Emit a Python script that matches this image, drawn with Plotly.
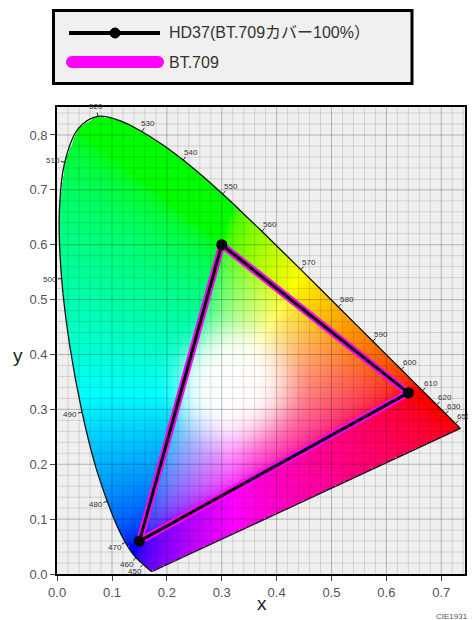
import numpy as np
import plotly.graph_objects as go

# CIE 1931 spectral locus, 380-700 nm every 5 nm
WAVELENGTHS = list(range(380, 705, 5))
LOCUS_X = [0.1741, 0.1740, 0.1738, 0.1736, 0.1733, 0.1730, 0.1726, 0.1721, 0.1714, 0.1703,
           0.1689, 0.1669, 0.1644, 0.1611, 0.1566, 0.1510, 0.1440, 0.1355, 0.1241, 0.1096,
           0.0913, 0.0687, 0.0454, 0.0235, 0.0082, 0.0039, 0.0139, 0.0389, 0.0743, 0.1142,
           0.1547, 0.1929, 0.2296, 0.2658, 0.3016, 0.3373, 0.3731, 0.4087, 0.4441, 0.4788,
           0.5125, 0.5448, 0.5752, 0.6029, 0.6270, 0.6482, 0.6658, 0.6801, 0.6915, 0.7006,
           0.7079, 0.7140, 0.7190, 0.7230, 0.7260, 0.7283, 0.7300, 0.7311, 0.7320, 0.7327,
           0.7334, 0.7340, 0.7344, 0.7346, 0.7347]
LOCUS_Y = [0.0050, 0.0050, 0.0049, 0.0049, 0.0048, 0.0048, 0.0048, 0.0048, 0.0051, 0.0058,
           0.0069, 0.0086, 0.0109, 0.0138, 0.0177, 0.0227, 0.0297, 0.0399, 0.0578, 0.0868,
           0.1327, 0.2007, 0.2950, 0.4127, 0.5384, 0.6548, 0.7502, 0.8120, 0.8338, 0.8262,
           0.8059, 0.7816, 0.7543, 0.7243, 0.6923, 0.6589, 0.6245, 0.5896, 0.5547, 0.5202,
           0.4866, 0.4544, 0.4242, 0.3965, 0.3725, 0.3514, 0.3340, 0.3197, 0.3083, 0.2993,
           0.2920, 0.2859, 0.2809, 0.2770, 0.2740, 0.2717, 0.2700, 0.2689, 0.2680, 0.2673,
           0.2666, 0.2660, 0.2656, 0.2654, 0.2653]
WL_LABELS = [450, 460, 470, 480, 490, 500, 510, 520, 530, 540, 550,
             560, 570, 580, 590, 600, 610, 620, 630, 650]

# gamut triangles (R, G, B, back to R)
BT709_X = [0.64, 0.30, 0.15, 0.64]
BT709_Y = [0.33, 0.60, 0.06, 0.33]
HD37_X = [0.64, 0.30, 0.15, 0.64]
HD37_Y = [0.33, 0.60, 0.06, 0.33]

X_TICKS = [0.0, 0.1, 0.2, 0.3, 0.4, 0.5, 0.6, 0.7]
Y_TICKS = [0.0, 0.1, 0.2, 0.3, 0.4, 0.5, 0.6, 0.7, 0.8]

XMAX, YMAX = 0.743, 0.851
# page has an 8px body margin, figure starts at (8, 8)
OFF = 8
PL, PT, PW, PH = 55, 107, 412, 467          # plot area in page pixels
W, H = 476 - OFF, 620 - OFF
L, T = PL - OFF, PT - OFF
R, B = W - L - PW, H - T - PH
SX, SY = PW / XMAX, PH / YMAX


def pxx(p):
    return (p - PL) / PW


def pxy(p):
    return (PT + PH - p) / PH


# chromaticity colour image
d = 0.0015
gx = np.arange(0, XMAX, d) + d / 2
gy = np.arange(0, YMAX, d) + d / 2
XX, YY = np.meshgrid(gx, gy)
Xc = XX / YY
Zc = (1 - XX - YY) / YY
r = 3.2406 * Xc - 1.5372 - 0.4986 * Zc
g = -0.9689 * Xc + 1.8758 + 0.0415 * Zc
b = 0.0557 * Xc - 0.2040 + 1.0570 * Zc
rgb = np.clip(np.stack([r, g, b], axis=-1), 0, None)
rgb = rgb / rgb.max(axis=-1, keepdims=True)
rgb = np.where(rgb <= 0.0031308, 12.92 * rgb, 1.055 * rgb ** (1 / 2.4) - 0.055)
# soft white centre
dist = np.hypot(XX - 0.32, YY - 0.345)
wgt = np.exp(-(dist / 0.1) ** 4)[..., None]
rgb = rgb + (1 - rgb) * wgt * 0.95

polx = np.array(LOCUS_X + [LOCUS_X[0]])
poly = np.array(LOCUS_Y + [LOCUS_Y[0]])
inside = np.zeros(XX.shape, dtype=bool)
for i in range(len(polx) - 1):
    xi, yi, xj, yj = polx[i], poly[i], polx[i + 1], poly[i + 1]
    if yi == yj:
        continue
    cond = ((yi > YY) != (yj > YY)) & (XX < (xj - xi) * (YY - yi) / (yj - yi) + xi)
    inside ^= cond

img = np.zeros(XX.shape + (4,), dtype=np.uint8)
img[..., :3] = (np.clip(rgb, 0, 1) * 255).astype(np.uint8)
img[..., 3] = np.where(inside, 255, 0)

fig = go.Figure()
fig.add_trace(go.Image(z=img, colormodel="rgba", x0=gx[0], dx=d, y0=gy[0], dy=d,
                       hoverinfo="skip"))

# grid drawn over the colours
def grid_lines(step_vals, vertical, length):
    xs, ys = [], []
    for v in step_vals:
        if vertical:
            xs += [v, v, None]
            ys += [0, length, None]
        else:
            xs += [0, length, None]
            ys += [v, v, None]
    return xs, ys

minor_x = [round(v, 2) for v in np.arange(0.02, XMAX, 0.02) if abs(v * 10 - round(v * 10)) > 1e-6]
minor_y = [round(v, 2) for v in np.arange(0.02, YMAX, 0.02) if abs(v * 10 - round(v * 10)) > 1e-6]
mx1, my1 = grid_lines(minor_x, True, YMAX)
mx2, my2 = grid_lines(minor_y, False, XMAX)
fig.add_trace(go.Scatter(x=mx1 + mx2, y=my1 + my2, mode="lines",
                         line=dict(color="rgba(0,0,0,0.12)", width=1), hoverinfo="skip"))
jx1, jy1 = grid_lines(X_TICKS[1:], True, YMAX)
jx2, jy2 = grid_lines(Y_TICKS[1:], False, XMAX)
fig.add_trace(go.Scatter(x=jx1 + jx2, y=jy1 + jy2, mode="lines",
                         line=dict(color="rgba(0,0,0,0.25)", width=1), hoverinfo="skip"))

# locus outline
fig.add_trace(go.Scatter(x=LOCUS_X, y=LOCUS_Y, mode="lines", line_shape="spline",
                         line=dict(color="#111111", width=1.3), hoverinfo="skip"))
fig.add_trace(go.Scatter(x=[LOCUS_X[-1], LOCUS_X[0]], y=[LOCUS_Y[-1], LOCUS_Y[0]],
                         mode="lines", line=dict(color="#111111", width=1.3), hoverinfo="skip"))

# wavelength ticks and labels
tx, ty = [], []
for wl in WL_LABELS:
    i = WAVELENGTHS.index(wl)
    dxp = (LOCUS_X[i + 1] - LOCUS_X[i - 1]) * SX
    dyp = (LOCUS_Y[i + 1] - LOCUS_Y[i - 1]) * SY
    n = np.hypot(dxp, dyp)
    nx, ny = -dyp / n, dxp / n
    tx += [LOCUS_X[i], LOCUS_X[i] + nx * 4 / SX, None]
    ty += [LOCUS_Y[i], LOCUS_Y[i] + ny * 4 / SY, None]
    fig.add_annotation(x=LOCUS_X[i], y=LOCUS_Y[i], text=str(wl), showarrow=False,
                       xanchor="center", yanchor="middle",
                       xshift=nx * 12, yshift=ny * 10,
                       font=dict(size=8, color="#333333"))
fig.add_trace(go.Scatter(x=tx, y=ty, mode="lines", line=dict(color="#222222", width=1),
                         hoverinfo="skip"))

# gamut triangles
fig.add_trace(go.Scatter(x=BT709_X, y=BT709_Y, mode="lines", name="BT.709",
                         line=dict(color="#ff00ff", width=7)))
fig.add_trace(go.Scatter(x=HD37_X, y=HD37_Y, mode="lines+markers",
                         name="HD37(BT.709カバー100%）",
                         line=dict(color="black", width=3),
                         marker=dict(color="black", size=11)))

# hand-drawn legend box
fig.add_shape(type="rect", xref="paper", yref="paper",
              x0=pxx(53.5), x1=pxx(412), y0=pxy(83.5), y1=pxy(10.5),
              line=dict(color="black", width=3), fillcolor="#f0f0f0")
fig.add_shape(type="line", xref="paper", yref="paper",
              x0=pxx(69), x1=pxx(160), y0=pxy(33), y1=pxy(33),
              line=dict(color="black", width=4))
fig.add_shape(type="circle", xref="paper", yref="paper",
              x0=pxx(110), x1=pxx(120), y0=pxy(38), y1=pxy(28),
              line=dict(color="black", width=1), fillcolor="black")
fig.add_shape(type="line", xref="paper", yref="paper",
              x0=pxx(72), x1=pxx(158), y0=pxy(62), y1=pxy(62),
              line=dict(color="#ff00ff", width=12))
for cx in (72, 158):
    fig.add_shape(type="circle", xref="paper", yref="paper",
                  x0=pxx(cx - 6), x1=pxx(cx + 6), y0=pxy(68), y1=pxy(56),
                  line=dict(width=0), fillcolor="#ff00ff")
fig.add_annotation(xref="paper", yref="paper", x=pxx(167), y=pxy(33),
                   xanchor="left", yanchor="middle",
                   text="HD37(BT.709カバー100%）", showarrow=False,
                   font=dict(size=16, color="#333333"))
fig.add_annotation(xref="paper", yref="paper", x=pxx(167), y=pxy(63),
                   xanchor="left", yanchor="middle",
                   text="BT.709", showarrow=False, font=dict(size=16, color="#333333"))

# axis titles and source note
fig.add_annotation(xref="paper", yref="paper", x=pxx(262), y=pxy(603), text="x",
                   xanchor="center", yanchor="middle",
                   showarrow=False, font=dict(size=19, color="#222222"))
fig.add_annotation(xref="paper", yref="paper", x=pxx(18), y=pxy(355), text="y",
                   xanchor="center", yanchor="middle",
                   showarrow=False, font=dict(size=19, color="#222222"))
fig.add_annotation(xref="paper", yref="paper", x=pxx(434), y=pxy(616),
                   xanchor="left", yanchor="middle",
                   text="CIE1931", showarrow=False, font=dict(size=8, color="#555555"))

axis_common = dict(showgrid=False, zeroline=False, showline=True, linecolor="black",
                   linewidth=2, mirror=True, ticks="outside", ticklen=5,
                   tickcolor="#444444", tickfont=dict(size=13, color="#555555"),
                   autorange=False)
fig.update_xaxes(range=[0, XMAX], tickvals=X_TICKS,
                 ticktext=[f"{v:.1f}" for v in X_TICKS], **axis_common)
fig.update_yaxes(range=[0, YMAX], tickvals=Y_TICKS,
                 ticktext=[f"{v:.1f}" for v in Y_TICKS], **axis_common)

fig.update_layout(width=W, height=H, margin=dict(l=L, r=R, t=T, b=B),
                  plot_bgcolor="#efefef", paper_bgcolor="white", showlegend=False,
                  font=dict(family="Arial, 'Liberation Sans', 'Noto Sans CJK JP', sans-serif"))

fig.write_html("out.html")
